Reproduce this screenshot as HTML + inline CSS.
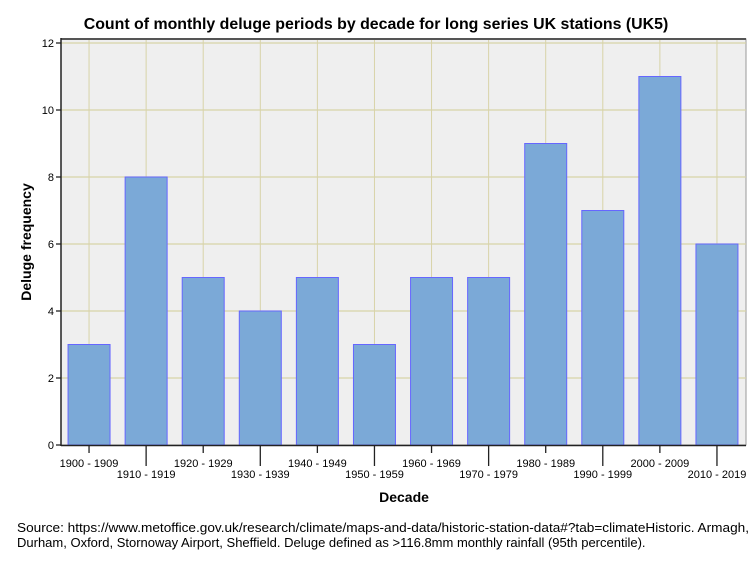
<!DOCTYPE html>
<html><head><meta charset="utf-8"><style>
body{margin:0;background:#fff;font-family:"Liberation Sans",Arial,sans-serif;}
svg{display:block}
</style></head><body>
<svg width="754" height="564">
<rect x="0" y="0" width="754" height="564" fill="#fff"/>
<text x="376" y="29" text-anchor="middle" font-size="15.9" font-weight="bold">Count of monthly deluge periods by decade for long series UK stations (UK5)</text>
<rect x="61" y="39" width="685" height="406" fill="#efefef" stroke="#999"/>
<g id="grid"></g>
<g id="bars"></g>
<line x1="61" y1="39" x2="746" y2="39" stroke="#555" stroke-width="2"/>
<line x1="61" y1="38" x2="61" y2="446" stroke="#222" stroke-width="1.5"/>
<line x1="61" y1="445.5" x2="746" y2="445.5" stroke="#222" stroke-width="1.5"/>
<g id="axes"></g>
<text x="404" y="502" text-anchor="middle" font-size="14" font-weight="bold">Decade</text>
<text transform="translate(31,242) rotate(-90)" text-anchor="middle" font-size="14" font-weight="bold">Deluge frequency</text>
<text x="17" y="532" font-size="13" textLength="732" lengthAdjust="spacingAndGlyphs">Source: https://www.metoffice.gov.uk/research/climate/maps-and-data/historic-station-data#?tab=climateHistoric. Armagh,</text>
<text x="17" y="547" font-size="13">Durham, Oxford, Stornoway Airport, Sheffield. Deluge defined as &gt;116.8mm monthly rainfall (95th percentile).</text>
</svg>
<script>
const categories=["1900 - 1909","1910 - 1919","1920 - 1929","1930 - 1939","1940 - 1949","1950 - 1959","1960 - 1969","1970 - 1979","1980 - 1989","1990 - 1999","2000 - 2009","2010 - 2019"];
const values=[3,8,5,4,5,3,5,5,9,7,11,6];
const yTicks=[0,2,4,6,8,10,12];
const NS="http://www.w3.org/2000/svg";
const L=61,R=746,Y0=445,Y12=43;
const band=(R-L)/categories.length;
function xc(i){return L+band*(i+0.5)-0.5;}
function y(v){return Y0-(Y0-Y12)*v/12;}
function mk(tag,attrs,parent){const e=document.createElementNS(NS,tag);for(const k in attrs)e.setAttribute(k,attrs[k]);document.getElementById(parent).appendChild(e);return e;}
yTicks.forEach(t=>{
 if(t>0){const g=mk('line',{x1:L,x2:R,y1:y(t),y2:y(t),stroke:'#d8d3a8','stroke-width':1.3},'grid');
 
 }
 const tk=mk('line',{x1:L-5,x2:L,y1:y(t),y2:y(t),stroke:'#222','stroke-width':1.3},'axes');
 
 
 const tx=mk('text',{x:L-7,y:y(t)+4,'text-anchor':'end','font-size':11},'axes');
 tx.textContent=t;
 
 
});
categories.forEach((c,i)=>{
 const x=xc(i);
 const g=mk('line',{x1:x,x2:x,y1:39,y2:Y0,stroke:'#d8d3a8','stroke-width':1},'grid');
 
 
 const b=mk('rect',{x:x-21,y:y(values[i]),width:42,height:Y0-y(values[i]),fill:'#7ba9d7',stroke:'#6666ff','stroke-width':1},'bars');
 
 
 const odd=i%2===1;
 const tk=mk('line',{x1:x,x2:x,y1:446,y2:odd?466:453,stroke:'#222','stroke-width':1.3},'axes');
 
 
 const tx=mk('text',{x:x,y:odd?478:467,'text-anchor':'middle','font-size':11},'axes');
 tx.textContent=c;
 
 
});
</script>
</body></html>
